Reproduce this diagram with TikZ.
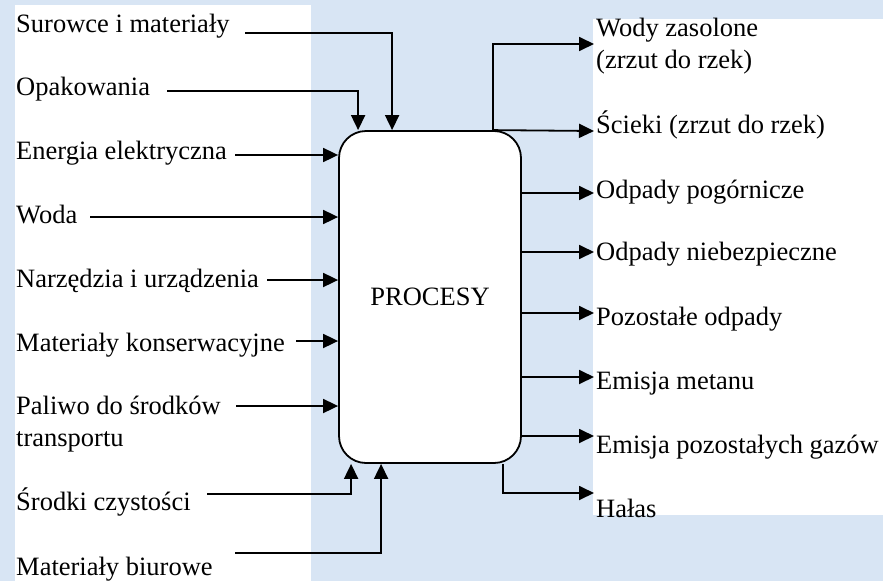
\documentclass[tikz,border=0pt]{standalone}
\usepackage{fontspec}
\setmainfont{Liberation Serif}
\usepackage{tikz}
\usetikzlibrary{arrows.meta}
\definecolor{tlo}{RGB}{216,229,244}

\begin{document}
\begin{tikzpicture}[x=1pt,y=-1pt,
        lbl/.style = {anchor=base west, inner sep=0pt, align=left, font=\fontsize{26.5}{32}\selectfont},
        proc/.style = {draw, line width=1.8pt, fill=white, rounded corners=27pt, minimum width=182pt, minimum height=332pt, inner sep=0pt, font=\fontsize{26.5}{32}\selectfont},
        flow/.style = {line width=1.8pt, -{Triangle[length=15pt,width=14pt]}}]
        \useasboundingbox (0,0) rectangle (883,581);
        \fill[tlo] (0,0) rectangle (883,581);
        \fill[white] (15,5) rectangle (311,581);
        \fill[white] (593,19) rectangle (883,515);
        \node[proc] (p) at (430,297) {PROCESY};
        \node[lbl] (in1) at (16,32) {Surowce i materiały};
        \node[lbl] (in2) at (16,95) {Opakowania};
        \node[lbl] (in3) at (16,159) {Energia elektryczna};
        \node[lbl] (in4) at (16,223) {Woda};
        \node[lbl] (in5) at (16,287) {Narzędzia i urządzenia};
        \node[lbl] (in6) at (16,351) {Materiały konserwacyjne};
        \node[lbl] (in7) at (16,446) {Paliwo do środków\\transportu};
        \node[lbl] (in8) at (16,510) {Środki czystości};
        \node[lbl] (in9) at (16,575) {Materiały biurowe};
        \node[lbl] (out1) at (596,68) {Wody zasolone\\(zrzut do rzek)};
        \node[lbl] (out2) at (596,133) {Ścieki (zrzut do rzek)};
        \node[lbl] (out3) at (596,198) {Odpady pogórnicze};
        \node[lbl] (out4) at (596,260) {Odpady niebezpieczne};
        \node[lbl] (out5) at (596,325) {Pozostałe odpady};
        \node[lbl] (out6) at (596,389) {Emisja metanu};
        \node[lbl] (out7) at (596,453) {Emisja pozostałych gazów};
        \node[lbl] (out8) at (596,517) {Hałas};
        \coordinate (s1) at (245,33);
        \coordinate (s2) at (167,91);
        \coordinate (s3) at (235,155);
        \coordinate (s4) at (90,217);
        \coordinate (s5) at (267,280);
        \coordinate (s6) at (296,341);
        \coordinate (s7) at (236,406);
        \coordinate (s8) at (207,494);
        \coordinate (s9) at (235,553);
        \coordinate (t1) at (594,44);
        \coordinate (t2) at (594,131);
        \coordinate (t3) at (594,193);
        \coordinate (t4) at (594,252);
        \coordinate (t5) at (594,313);
        \coordinate (t6) at (594,377);
        \coordinate (t7) at (594,436);
        \coordinate (t8) at (594,493);
        \draw[flow] (s1) -| ([xshift=54pt]p.north west);
        \draw[flow] (s2) -| ([xshift=20pt]p.north west);
        \draw[flow] (s3) -- (s3 -| p.west);
        \draw[flow] (s4) -- (s4 -| p.west);
        \draw[flow] (s5) -- (s5 -| p.west);
        \draw[flow] (s6) -- (s6 -| p.west);
        \draw[flow] (s7) -- (s7 -| p.west);
        \draw[flow] (s8) -| ([xshift=13pt]p.south west);
        \draw[flow] (s9) -| ([xshift=43pt]p.south west);
        \draw[flow] ([xshift=-29pt]p.north east) |- (t1);
        \draw[flow] ([xshift=-29pt]p.north east) -- (t2);
        \draw[flow] (p.east |- t3) -- (t3);
        \draw[flow] (p.east |- t4) -- (t4);
        \draw[flow] (p.east |- t5) -- (t5);
        \draw[flow] (p.east |- t6) -- (t6);
        \draw[flow] (p.east |- t7) -- (t7);
        \draw[flow] ([xshift=-19pt]p.south east) |- (t8);
\end{tikzpicture}
\end{document}
